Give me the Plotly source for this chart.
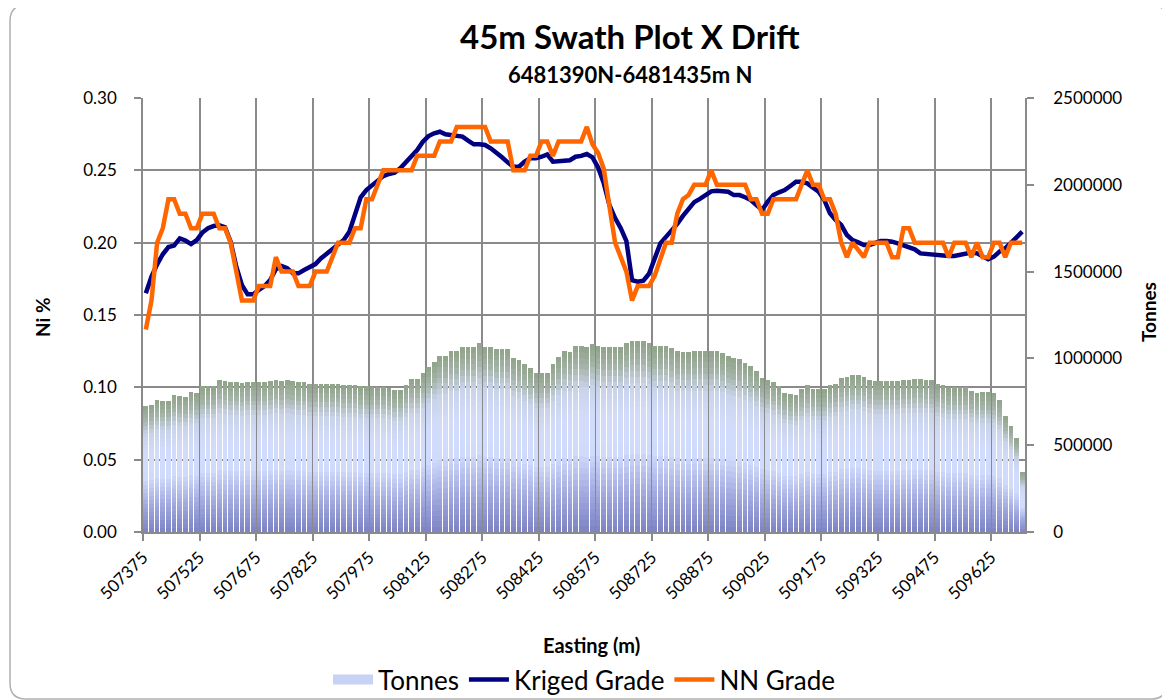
import numpy as np
import plotly.graph_objects as go

# ---------------- data ----------------
easting_start = 507375
easting_step = 15

tonnes = [
    726000, 732000, 760000, 755000, 755000, 789000, 783000, 778000, 806000, 801000,
    839000, 839000, 839000, 876000, 870000, 864000, 864000, 858000, 864000, 864000,
    864000, 864000, 870000, 876000, 870000, 876000, 870000, 864000, 864000, 853000,
    853000, 853000, 853000, 853000, 853000, 847000, 847000, 847000, 839000, 839000,
    837000, 837000, 837000, 831000, 818000, 818000, 847000, 881000, 881000, 916000,
    950000, 979000, 1014000, 1014000, 1043000, 1043000, 1066000, 1066000, 1066000, 1089000,
    1066000, 1066000, 1054000, 1054000, 1054000, 1002000, 991000, 968000, 945000, 916000,
    916000, 916000, 968000, 1008000, 1043000, 1037000, 1071000, 1071000, 1066000, 1083000,
    1071000, 1066000, 1066000, 1066000, 1066000, 1089000, 1100000, 1100000, 1100000, 1089000,
    1071000, 1071000, 1071000, 1060000, 1043000, 1037000, 1037000, 1043000, 1043000, 1043000,
    1043000, 1043000, 1031000, 1014000, 1002000, 997000, 973000, 956000, 927000, 887000,
    876000, 864000, 839000, 801000, 795000, 789000, 824000, 847000, 824000, 824000,
    824000, 847000, 853000, 887000, 893000, 904000, 904000, 893000, 876000, 870000,
    870000, 870000, 870000, 870000, 876000, 876000, 881000, 881000, 876000, 876000,
    853000, 847000, 835000, 835000, 835000, 835000, 812000, 801000, 806000, 806000,
    801000, 760000, 668000, 611000, 541000, 346000,
]

kriged = [
    0.165, 0.1765, 0.185, 0.192, 0.197, 0.198, 0.203, 0.2015, 0.199, 0.2018,
    0.207, 0.210, 0.2115, 0.212, 0.2106, 0.2007, 0.1834, 0.1707, 0.1643, 0.1643,
    0.1673, 0.170, 0.1742, 0.1816, 0.1839, 0.1823, 0.1788, 0.1788, 0.1811, 0.1834,
    0.1852, 0.1892, 0.1922, 0.1949, 0.1984, 0.2018, 0.2076, 0.2191, 0.2314, 0.2364,
    0.2399, 0.2433, 0.246, 0.2475, 0.2484, 0.2514, 0.2553, 0.2594, 0.264, 0.2698,
    0.2737, 0.2756, 0.2767, 0.2749, 0.2744, 0.2744, 0.2733, 0.2705, 0.268, 0.268,
    0.2675, 0.2652, 0.2625, 0.259, 0.2555, 0.2525, 0.2525, 0.256, 0.2583, 0.2583,
    0.2594, 0.261, 0.256, 0.256, 0.2567, 0.257, 0.2594, 0.26, 0.2613, 0.259,
    0.252, 0.241, 0.226, 0.217, 0.210, 0.201, 0.174, 0.173, 0.1737, 0.1785,
    0.1895, 0.1995, 0.204, 0.208, 0.213, 0.2185, 0.2235, 0.228, 0.2303, 0.2330,
    0.2355, 0.2359, 0.2359, 0.2352, 0.2329, 0.2329, 0.2314, 0.2295, 0.226, 0.2226,
    0.2283, 0.2329, 0.2348, 0.2364, 0.2392, 0.2421, 0.2421, 0.241, 0.238, 0.2352,
    0.2295, 0.2203, 0.2157, 0.2122, 0.2053, 0.2018, 0.2002, 0.1984, 0.1984, 0.1995,
    0.2011, 0.2011, 0.2007, 0.1995, 0.1984, 0.1972, 0.1954, 0.1926, 0.1922, 0.1915,
    0.1915, 0.1908, 0.1908, 0.1908, 0.1915, 0.1926, 0.1931, 0.1926, 0.1908, 0.1885,
    0.1903, 0.1938, 0.1961, 0.1995, 0.2037, 0.2076,
]

nn = [
    0.14, 0.16, 0.20, 0.21, 0.23, 0.23, 0.22, 0.22, 0.21, 0.21,
    0.22, 0.22, 0.22, 0.21, 0.21, 0.20, 0.18, 0.16, 0.16, 0.16,
    0.17, 0.17, 0.17, 0.19, 0.18, 0.18, 0.18, 0.17, 0.17, 0.17,
    0.18, 0.18, 0.18, 0.19, 0.20, 0.20, 0.20, 0.21, 0.21, 0.23,
    0.23, 0.24, 0.25, 0.25, 0.25, 0.25, 0.25, 0.25, 0.26, 0.26,
    0.26, 0.26, 0.27, 0.27, 0.27, 0.28, 0.28, 0.28, 0.28, 0.28,
    0.28, 0.27, 0.27, 0.27, 0.27, 0.25, 0.25, 0.25, 0.26, 0.26,
    0.27, 0.27, 0.26, 0.27, 0.27, 0.27, 0.27, 0.27, 0.28, 0.268,
    0.262, 0.251, 0.225, 0.20, 0.19, 0.18, 0.16, 0.17, 0.17, 0.17,
    0.177, 0.188, 0.20, 0.20, 0.22, 0.23, 0.233, 0.24, 0.24, 0.24,
    0.25, 0.24, 0.24, 0.24, 0.24, 0.24, 0.24, 0.23, 0.23, 0.22,
    0.22, 0.23, 0.23, 0.23, 0.23, 0.23, 0.24, 0.25, 0.24, 0.24,
    0.23, 0.23, 0.22, 0.20, 0.19, 0.20, 0.195, 0.19, 0.20, 0.20,
    0.20, 0.20, 0.19, 0.19, 0.21, 0.21, 0.20, 0.20, 0.20, 0.20,
    0.20, 0.20, 0.19, 0.20, 0.20, 0.20, 0.19, 0.20, 0.19, 0.19,
    0.20, 0.20, 0.19, 0.20, 0.20, 0.20,
]

tick_labels = ["507375", "507525", "507675", "507825", "507975", "508125",
               "508275", "508425", "508575", "508725", "508875", "509025",
               "509175", "509325", "509475", "509625"]

eastings = [easting_start + easting_step * i for i in range(len(tonnes))]

# ---------------- styling helpers ----------------
FONT = "Lato, 'Open Sans', sans-serif"
GRID = "#8a8a8a"
OFF = 8  # page body margin offset in the browser

stops = [
    (0.00, (124, 131, 196)),
    (0.20, (160, 168, 222)),
    (0.42, (208, 218, 251)),
    (0.62, (210, 220, 250)),
    (0.78, (200, 210, 232)),
    (0.89, (165, 180, 168)),
    (1.00, (143, 163, 136)),
]


def grad_color(f):
    for (f0, c0), (f1, c1) in zip(stops[:-1], stops[1:]):
        if f0 <= f <= f1:
            t = (f - f0) / (f1 - f0)
            c = [round(a + (b - a) * t) for a, b in zip(c0, c1)]
            return "rgb(%d,%d,%d)" % tuple(c)
    return "rgb(%d,%d,%d)" % stops[-1][1]


fig = go.Figure()

# legend-only entry for the tonnes bars (wide swatch)
fig.add_trace(go.Scatter(
    x=[None], y=[None], yaxis="y", mode="lines", name="Tonnes",
    line=dict(color="rgb(200,210,245)", width=12), hoverinfo="skip",
))

n_seg = 32
tonnes_arr = np.array(tonnes, dtype=float)
for i in range(n_seg):
    frac = (i + 0.5) / n_seg
    fig.add_trace(go.Bar(
        x=eastings, y=tonnes_arr / n_seg, yaxis="y",
        marker=dict(color=grad_color(frac), line=dict(width=0)),
        name="Tonnes", showlegend=False, hoverinfo="skip",
    ))

fig.add_trace(go.Scatter(
    x=eastings, y=kriged, yaxis="y2", mode="lines", name="Kriged Grade",
    line=dict(color="#000080", width=4.5),
))
fig.add_trace(go.Scatter(
    x=eastings, y=nn, yaxis="y2", mode="lines", name="NN Grade",
    line=dict(color="#ff6600", width=4.5),
))

tick_font = dict(family=FONT, size=17, color="black")
half = easting_step / 2.0

# plot area in page pixels: x 143..1025, y 98..532
fig.update_layout(
    width=1170, height=700,
    margin=dict(l=143 - OFF, r=1170 - (1025 - OFF), t=98 - OFF,
                b=700 - (532 - OFF), autoexpand=False),
    paper_bgcolor="white", plot_bgcolor="white",
    barmode="stack", bargap=0.17,
    font=dict(family=FONT, color="black"),
    xaxis=dict(
        range=[eastings[0] - half, eastings[-1] + half],
        tickmode="array",
        tickvals=[float(t) - half for t in tick_labels],
        ticktext=tick_labels,
        tickangle=-45, tickfont=tick_font,
        showgrid=True, gridcolor=GRID, gridwidth=1.6,
        showline=True, linecolor=GRID, linewidth=1.6,
        ticks="outside", ticklen=7, tickcolor=GRID, tickwidth=1.6,
        zeroline=False,
    ),
    yaxis=dict(
        side="right", range=[0, 2500000], dtick=500000, tickformat="d",
        showgrid=False, showline=True, linecolor=GRID, linewidth=1.6,
        ticks="outside", ticklen=7, tickcolor=GRID, tickwidth=1.6,
        tickfont=tick_font, zeroline=False, ticklabelstandoff=16,
    ),
    yaxis2=dict(
        overlaying="y", side="left", range=[0, 0.30], dtick=0.05,
        tickformat=".2f",
        showgrid=True, gridcolor=GRID, gridwidth=1.6,
        showline=True, linecolor=GRID, linewidth=1.6,
        ticks="outside", ticklen=7, tickcolor=GRID, tickwidth=1.6,
        tickfont=tick_font, zeroline=False, ticklabelstandoff=14,
    ),
    legend=dict(
        orientation="h", x=0.5, xanchor="center",
        y=-(703 - 532) / 434.0, yanchor="bottom",
        font=dict(family=FONT, size=26, color="black"),
        traceorder="normal", itemwidth=40, bgcolor="rgba(0,0,0,0)",
        tracegroupgap=0,
    ),
    showlegend=True,
)


def px_to_paper(px, py):
    return (px - 143) / 882.0, (532 - py) / 434.0


def add_text(text, px, py, size, angle=0):
    tx, ty = px_to_paper(px, py)
    return dict(text=text, x=tx, y=ty, xref="paper", yref="paper",
                xanchor="center", yanchor="middle", showarrow=False,
                textangle=angle, font=dict(family=FONT, size=size, color="black"))


annotations = [
    add_text("<b>45m Swath Plot X Drift</b>", 630, 36, 33),
    add_text("<b>6481390N-6481435m N</b>", 630, 74, 22),
    add_text("<b>Ni %</b>", 42, 317, 19, -90),
    add_text("<b>Tonnes</b>", 1148, 312, 19, -90),
    add_text("<b>Easting (m)</b>", 591, 645, 20),
]
fig.update_layout(annotations=annotations)

# rounded chart border
x0, y0 = px_to_paper(10, 5)
x1, y1 = px_to_paper(1167, 699)
rx, ry = 16 / 882.0, 16 / 434.0
path = (f"M {x0 + rx},{y0} L {x1 - rx},{y0} Q {x1},{y0} {x1},{y0 - ry} "
        f"L {x1},{y1 + ry} Q {x1},{y1} {x1 - rx},{y1} "
        f"L {x0 + rx},{y1} Q {x0},{y1} {x0},{y1 + ry} "
        f"L {x0},{y0 - ry} Q {x0},{y0} {x0 + rx},{y0} Z")
fig.add_shape(type="path", path=path, xref="paper", yref="paper",
              line=dict(color="#b0b0b0", width=1.5), layer="below")

fig.write_html("out.html")
